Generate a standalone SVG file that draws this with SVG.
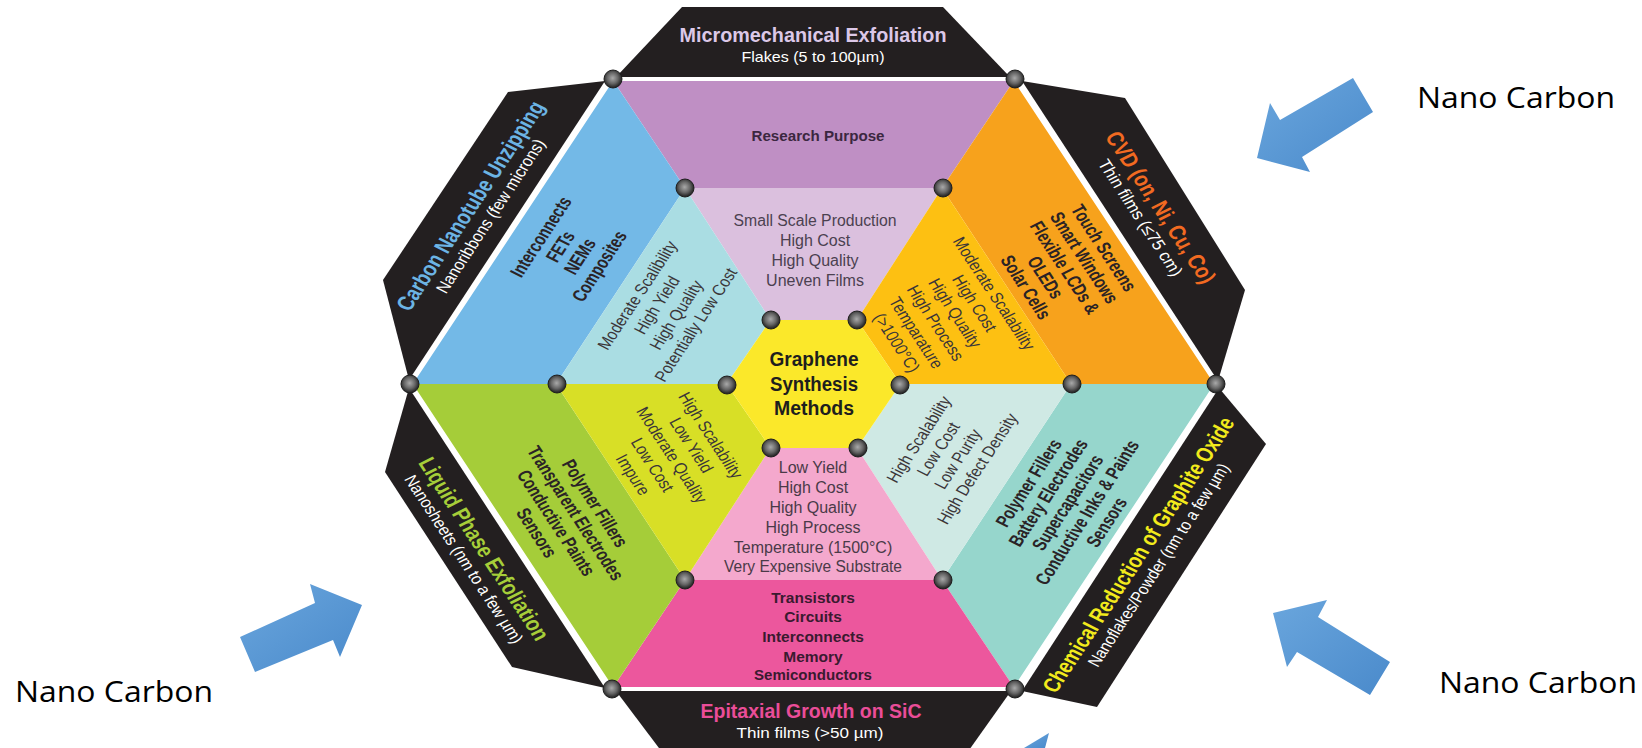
<svg xmlns="http://www.w3.org/2000/svg" width="1642" height="748" viewBox="0 0 1642 748">
<defs>
<radialGradient id="dot" cx="48%" cy="45%" r="55%">
<stop offset="0" stop-color="#a9a9a9"/><stop offset="0.55" stop-color="#666"/><stop offset="1" stop-color="#1c1c1c"/>
</radialGradient>
<linearGradient id="blue" x1="0" y1="0" x2="1" y2="1">
<stop offset="0" stop-color="#6aa6dd"/><stop offset="1" stop-color="#4a8acb"/>
</linearGradient>
<style>
.tab{fill:#231f20}
.dot{fill:url(#dot);stroke:#1e1e1e;stroke-width:1}
.b{font-family:"Liberation Sans",Arial,sans-serif;font-weight:bold;text-anchor:middle}
.r{font-family:"Liberation Sans",Arial,sans-serif;text-anchor:middle}
.app{font-size:20px;fill:#2a2326}
.mid{font-size:18px;fill:#3b3639}
.sub{font-size:18px;fill:#ffffff}
.ttl{font-size:24px}
.nc{font-family:"Open Sans","Noto Sans",sans-serif;font-size:30px;fill:#000}
.arrow{fill:url(#blue)}
</style>
</defs>
<rect width="1642" height="748" fill="#ffffff"/>

<g id="tabs">
<polygon class="tab" points="616,77 682,7 943,7 1010,77"/>
<polygon class="tab" points="1022,81 1125,98 1245,290 1218,381"/>
<polygon class="tab" points="1219,388 1266,444 1097,707 1022,691"/>
<polygon class="tab" points="616,691 1011,691 962,760 668,760"/>
<polygon class="tab" points="409,388 385,472 512,667 605,688"/>
<polygon class="tab" points="409,380 383,280 508,92 605,81"/>
</g>

<g id="sectors-outer">
<polygon fill="#bf8fc4" points="612,79 1015,79 942,188 685,188"/>
<polygon fill="#f7a21c" points="1015,79 1216.5,384 1071,384 942,188"/>
<polygon fill="#96d6cc" points="1216.5,384 1015,689 942,580 1071,384"/>
<polygon fill="#ec579d" points="1015,689 612,689 685,580 942,580"/>
<polygon fill="#a5cd39" points="612,689 410.5,384 556,384 685,580"/>
<polygon fill="#73b9e7" points="410.5,384 612,79 685,188 556,384"/>
</g>
<g id="sectors-middle">
<polygon fill="#dbc0de" points="685,188 942,188 857,320 770.5,320"/>
<polygon fill="#fdc012" points="942,188 1071,384 900.5,384 857,320"/>
<polygon fill="#cfe9e4" points="1071,384 942,580 857,448 900.5,384"/>
<polygon fill="#f4a8cd" points="942,580 685,580 770.5,448 857,448"/>
<polygon fill="#d8df26" points="685,580 556,384 726.5,384 770.5,448"/>
<polygon fill="#aadde3" points="556,384 685,188 770.5,320 726.5,384"/>
</g>
<g id="center">
<polygon fill="#fbe82a" points="770.5,320 857,320 900.5,384 857,448 770.5,448 726.5,384"/>
<text class="b" x="814" y="366" font-size="20" fill="#1e1e1e" textLength="89" lengthAdjust="spacingAndGlyphs">Graphene</text>
<text class="b" x="814" y="391" font-size="20" fill="#1e1e1e" textLength="88" lengthAdjust="spacingAndGlyphs">Synthesis</text>
<text class="b" x="814" y="415" font-size="20" fill="#1e1e1e" textLength="80" lengthAdjust="spacingAndGlyphs">Methods</text>
</g>
<polygon id="white-edge" points="612,79 1015,79 1216.5,384 1015,689 612,689 410.5,384" fill="none" stroke="#ffffff" stroke-width="4" stroke-linejoin="round"/>

<g id="top">
<text class="b" x="813" y="42" font-size="19.5" fill="#dcc8e8" textLength="267" lengthAdjust="spacingAndGlyphs">Micromechanical Exfoliation</text>
<text class="r" x="813" y="62" font-size="15" fill="#ffffff" textLength="143" lengthAdjust="spacingAndGlyphs">Flakes (5 to 100µm)</text>
<text class="b" x="818" y="141" font-size="15.5" fill="#3b2740" textLength="133" lengthAdjust="spacingAndGlyphs">Research Purpose</text>
<g class="r" font-size="16" fill="#4b4150">
<text x="815" y="226" textLength="163" lengthAdjust="spacingAndGlyphs">Small Scale Production</text>
<text x="815" y="246">High Cost</text>
<text x="815" y="266">High Quality</text>
<text x="815" y="286">Uneven Films</text>
</g>
</g>

<g id="bottom">
<g class="r" font-size="16" fill="#4a3a48">
<text x="813" y="473">Low Yield</text>
<text x="813" y="493">High Cost</text>
<text x="813" y="513">High Quality</text>
<text x="813" y="533">High Process</text>
<text x="813" y="553">Temperature (1500°C)</text>
<text x="813" y="572" textLength="178" lengthAdjust="spacingAndGlyphs">Very Expensive Substrate</text>
</g>
<g class="b" font-size="15.5" fill="#3a1a30">
<text x="813" y="603">Transistors</text>
<text x="813" y="622">Circuits</text>
<text x="813" y="642">Interconnects</text>
<text x="813" y="662">Memory</text>
<text x="813" y="680" textLength="118" lengthAdjust="spacingAndGlyphs">Semiconductors</text>
</g>
<text class="b" x="811" y="718" font-size="19.5" fill="#ea4d98" textLength="221" lengthAdjust="spacingAndGlyphs">Epitaxial Growth on SiC</text>
<text class="r" x="810" y="738" font-size="15" fill="#ffffff" textLength="147" lengthAdjust="spacingAndGlyphs">Thin films (&gt;50 µm)</text>
</g>

<g id="upper-left">
<g transform="translate(480.5,211) scale(1,0.874) rotate(-60)">
<text class="b ttl" y="-3.5" fill="#6cb4e4" textLength="272" lengthAdjust="spacingAndGlyphs">Carbon Nanotube Unzipping</text>
<text class="r sub" y="17.8" textLength="200" lengthAdjust="spacingAndGlyphs">Nanoribbons (few microns)</text>
</g>
<g transform="translate(570,251.5) scale(1,0.874) rotate(-60)" class="b app">
<text transform="scale(0.78,1)" y="-26.8">Interconnects</text>
<text transform="scale(0.78,1)" y="-4.3">FETs</text>
<text transform="scale(0.78,1)" y="18.2">NEMs</text>
<text transform="scale(0.78,1)" y="40.7">Composites</text>
</g>
<g transform="translate(666.5,310) scale(1,0.874) rotate(-60)" class="r mid">
<text transform="scale(0.9,1)" y="-27.5">Moderate Scalibility</text>
<text transform="scale(0.9,1)" y="-5">High Yield</text>
<text transform="scale(0.9,1)" y="17.5">High Quality</text>
<text transform="scale(0.9,1)" y="40">Potentially Low Cost</text>
</g>
</g>

<g id="upper-right">
<g transform="translate(1150.5,212.5) scale(1,0.874) rotate(60)">
<text class="b ttl" y="-3.5" fill="#f26a21" textLength="196" lengthAdjust="spacingAndGlyphs">CVD (on, Ni, Cu, Co)</text>
<text class="r sub" y="17.8" textLength="151" lengthAdjust="spacingAndGlyphs">Thin films (≤75 cm)</text>
</g>
<g transform="translate(1065,267.5) scale(1,0.874) rotate(60)" class="b app">
<text transform="scale(0.78,1)" y="-38">Touch Screens</text>
<text transform="scale(0.78,1)" y="-15.5">Smart Windows</text>
<text transform="scale(0.78,1)" y="7">Flexible LCDs &amp;</text>
<text transform="scale(0.78,1)" y="29.5">OLEDs</text>
<text transform="scale(0.78,1)" y="52">Solar Cells</text>
</g>
<g transform="translate(945.5,318) scale(1,0.874) rotate(60)" class="r mid">
<text transform="scale(0.9,1)" y="-50">Moderate Scalability</text>
<text transform="scale(0.9,1)" y="-27.5">High Cost</text>
<text transform="scale(0.9,1)" y="-5">High Quality</text>
<text transform="scale(0.9,1)" y="17.5">High Process</text>
<text transform="scale(0.9,1)" y="40">Temparature</text>
<text transform="scale(0.9,1)" y="62.5">(&gt;1000°C)</text>
</g>
</g>

<g id="lower-right">
<g transform="translate(1148.5,560) scale(1,0.874) rotate(-60)">
<text class="b ttl" y="-3.5" fill="#f2ea1c" textLength="359" lengthAdjust="spacingAndGlyphs">Chemical Reduction of Graphite Oxide</text>
<text class="r sub" y="17.8" textLength="265" lengthAdjust="spacingAndGlyphs">Nanoflakes/Powder (nm to a few µm)</text>
</g>
<g transform="translate(1067.5,502.5) scale(1,0.874) rotate(-60)" class="b app">
<text transform="scale(0.78,1)" y="-38">Polymer Fillers</text>
<text transform="scale(0.78,1)" y="-15.5">Battery Electrodes</text>
<text transform="scale(0.78,1)" y="7">Supercapacitors</text>
<text transform="scale(0.78,1)" y="29.5">Conductive Inks &amp; Paints</text>
<text transform="scale(0.78,1)" y="52">Sensors</text>
</g>
<g transform="translate(948,454) scale(1,0.874) rotate(-60)" class="r mid">
<text transform="scale(0.9,1)" y="-27.5">High Scalability</text>
<text transform="scale(0.9,1)" y="-5">Low Cost</text>
<text transform="scale(0.9,1)" y="17.5">Low Purity</text>
<text transform="scale(0.9,1)" y="40">High Defect Density</text>
</g>
</g>

<g id="lower-left">
<g transform="translate(474,554) scale(1,0.874) rotate(60)">
<text class="b ttl" y="-3.5" fill="#a6ce39" textLength="237" lengthAdjust="spacingAndGlyphs">Liquid Phase Exfoliation</text>
<text class="r sub" y="17.8" textLength="219" lengthAdjust="spacingAndGlyphs">Nanosheets (nm to a few µm)</text>
</g>
<g transform="translate(566,518) scale(1,0.874) rotate(60)" class="b app">
<text transform="scale(0.78,1)" y="-26.8">Polymer Fillers</text>
<text transform="scale(0.78,1)" y="-4.3">Transparent Electrodes</text>
<text transform="scale(0.78,1)" y="18.2">Conductive Paints</text>
<text transform="scale(0.78,1)" y="40.7">Sensors</text>
</g>
<g transform="translate(672,455) scale(1,0.874) rotate(60)" class="r mid">
<text transform="scale(0.9,1)" y="-38.7">High Scalability</text>
<text transform="scale(0.9,1)" y="-16.2">Low Yield</text>
<text transform="scale(0.9,1)" y="6.3">Moderate Quality</text>
<text transform="scale(0.9,1)" y="28.8">Low Cost</text>
<text transform="scale(0.9,1)" y="51.3">Impure</text>
</g>
</g>

<g id="dots">
<circle class="dot" cx="613" cy="79" r="9"/>
<circle class="dot" cx="1015" cy="79" r="9"/>
<circle class="dot" cx="1216" cy="384" r="9"/>
<circle class="dot" cx="1015" cy="689" r="9"/>
<circle class="dot" cx="612" cy="689" r="9"/>
<circle class="dot" cx="410" cy="384" r="9"/>
<circle class="dot" cx="685" cy="188" r="9"/>
<circle class="dot" cx="943" cy="188" r="9"/>
<circle class="dot" cx="1072" cy="384" r="9"/>
<circle class="dot" cx="943" cy="580" r="9"/>
<circle class="dot" cx="685" cy="580" r="9"/>
<circle class="dot" cx="557" cy="384" r="9"/>
<circle class="dot" cx="771" cy="320" r="9"/>
<circle class="dot" cx="857" cy="320" r="9"/>
<circle class="dot" cx="900" cy="385" r="9"/>
<circle class="dot" cx="858" cy="448" r="9"/>
<circle class="dot" cx="771" cy="448" r="9"/>
<circle class="dot" cx="727" cy="385" r="9"/>
</g>

<g id="connectors">
<polygon class="arrow" points="1257,158 1270,103 1280,120 1353,78 1373,112 1302,157 1310,172"/>
<polygon class="arrow" points="240,637 315,603 310,584 362,605 340,657 333,640 255,672"/>
<polygon class="arrow" points="1273,613 1327,600 1318,617 1390,662 1370,695 1297,652 1287,667"/>
<polygon class="arrow" points="1024,748 1049,733 1045,748"/>
</g>

<g id="labels">
<text class="nc" x="1417" y="108" textLength="198" lengthAdjust="spacingAndGlyphs">Nano Carbon</text>
<text class="nc" x="15" y="702" textLength="198" lengthAdjust="spacingAndGlyphs">Nano Carbon</text>
<text class="nc" x="1439" y="693" textLength="198" lengthAdjust="spacingAndGlyphs">Nano Carbon</text>
</g>
</svg>
